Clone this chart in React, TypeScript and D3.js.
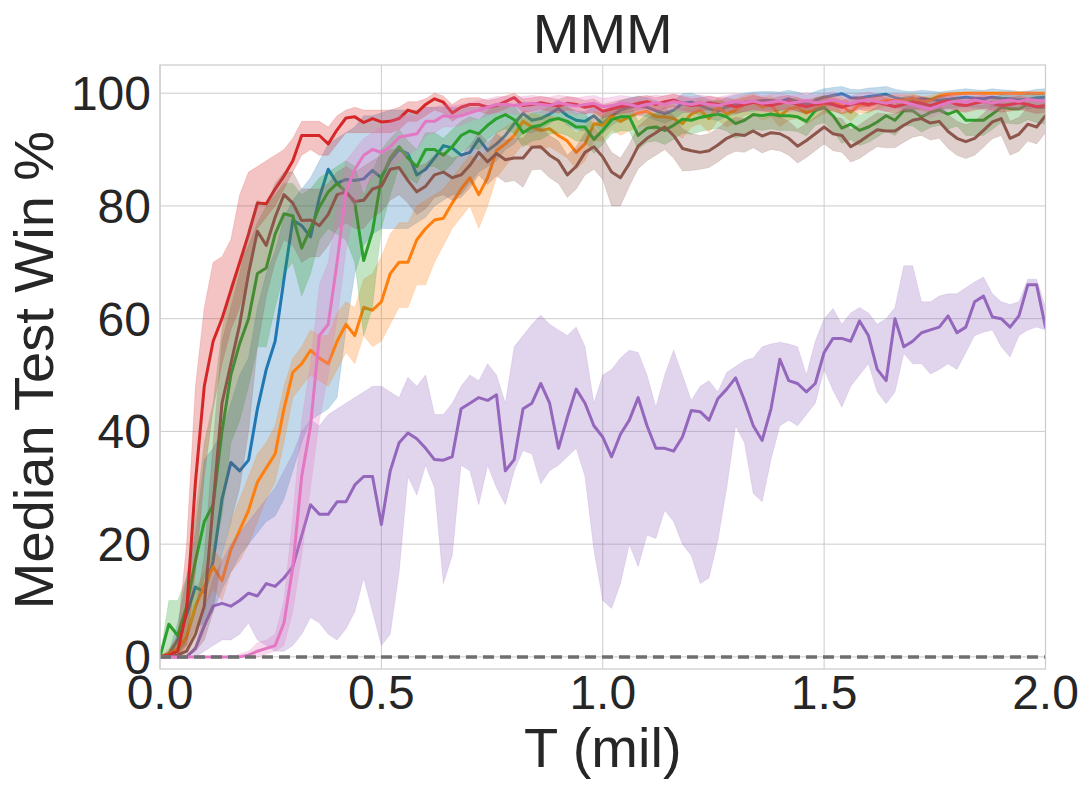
import React from "react";
import * as d3 from "d3";

// ---- data ----
const T: number[] = d3.range(101).map((i) => +(i * 0.02).toFixed(2));

const xTicks = [0, 0.5, 1.0, 1.5, 2.0];
const xTickLabels = ["0.0", "0.5", "1.0", "1.5", "2.0"];
const yTicks = [0, 20, 40, 60, 80, 100];
const yTickLabels = ["0", "20", "40", "60", "80", "100"];

const blueMed = [
  0, 0.5, 3, 7.5, 12.4, 11.5, 17, 28, 34.5, 33,
  34.9, 44, 51, 56, 67, 77.5, 76.5, 74.5, 81.5, 86.5,
  84, 84.7, 84.5, 84.8, 86.3, 85, 88.1, 90, 89.3, 85.5,
  86.5, 88.5, 90.7, 90.3, 89, 89.5, 91.9, 89.8, 91, 92.5,
  94.6, 96.4, 95.2, 95.5, 96.3, 97.3, 96, 95.2, 95, 96,
  94.5, 96, 97, 97.5, 97.8, 97.5, 96.9, 96.4, 97, 98.2,
  98.4, 97.8, 97.2, 96.8, 97.6, 98, 98.4, 98.5, 98.7, 98.7,
  98.5, 99, 98.5, 98, 98.7, 99.3, 99.6, 99.9, 99.2, 99.1,
  99.4, 99.6, 99.8, 99.2, 98.9, 98.8, 99, 98.9, 98.7, 98.9,
  99.1, 99.3, 99.1, 99, 99.3, 99.1, 99, 98.8, 98.9, 99.2,
  99.3,
];
const blueLo = [
  0, 0, 1, 2, 5, 6, 8, 12, 15, 18,
  20, 22, 24, 25, 28, 33, 38, 42, 43, 44,
  46, 58, 68, 73, 75, 76, 76, 76, 76, 77,
  78, 80, 81, 82, 82, 84, 86, 87, 88, 90,
  91, 93, 93, 93.5, 94.6, 95.6, 94.3, 93.5, 93.3, 94.3,
  92.8, 94.3, 95.3, 95.8, 96.1, 95.8, 95.2, 94.7, 95.3, 96.5,
  96.7, 96.1, 95.5, 95.1, 95.9, 96.3, 96.7, 96.8, 97, 97,
  96.8, 97.3, 96.8, 96.3, 97, 97.6, 97.9, 98.2, 97.5, 97.4,
  97.7, 97.9, 98.1, 97.5, 97.2, 97.1, 97.3, 97.2, 97, 97.2,
  97.4, 97.6, 97.4, 97.3, 97.6, 97.4, 97.3, 97.1, 97.2, 97.5,
  97.6,
];
const blueHi = [
  0, 1, 6, 14, 22, 35, 37, 40, 45, 50,
  53, 62, 68, 72, 78, 81, 83, 85, 88, 91,
  92, 93, 94, 96, 96, 96.5, 97, 97, 97, 97,
  97.5, 97.5, 97.5, 97.5, 97.5, 97.5, 97.5, 97.5, 97.5, 98,
  98, 98.5, 98, 98, 98, 98.8, 97.7, 96.9, 96.7, 97.7,
  96.2, 97.7, 98.7, 99.2, 99.5, 99.2, 98.6, 98.1, 98.7, 99.9,
  100, 99.5, 98.9, 98.5, 99.3, 99.7, 100, 100.2, 100.3, 100.3,
  100.2, 100.5, 100.2, 99.7, 100.3, 100.8, 101, 101.2, 100.7, 100.6,
  100.9, 101, 101.2, 100.7, 100.4, 100.3, 100.5, 100.4, 100.2, 100.4,
  100.6, 100.8, 100.6, 100.5, 100.8, 100.6, 100.5, 100.3, 100.4, 100.7,
  100.8,
];

const orangeMed = [
  0, 0.5, 1.5, 3.5, 9, 12.5, 16, 13.5, 19, 22.5,
  26, 31, 33.5, 36, 44, 50.5, 52, 54.4, 53, 52,
  56, 59, 57, 62, 61.5, 63, 68, 70, 70, 74,
  76, 77.5, 77.8, 80.5, 83, 85, 82, 85, 89.8, 91,
  92.5, 95, 94, 93.4, 93.7, 92.5, 91.5, 89.5, 91, 94.6,
  94.3, 96, 95, 95.8, 96.5, 96.8, 95.8, 95.8, 95.5, 94.6,
  96.3, 97, 95.5, 97.5, 96.3, 97, 98, 98.4, 97.5, 98,
  96, 97.2, 97.5, 96.5, 97.2, 98, 98.5, 97.8, 96.6, 98,
  97.8, 98.3, 98.7, 98.7, 98.7, 99.1, 98.4, 98.8, 99.5, 99.8,
  99.9, 100, 100, 100, 100, 100, 100, 100, 100, 100,
  100,
];
const orangeLo = [
  0, 0, 0, 1, 5, 9, 12, 10, 15, 17,
  20, 24, 28, 31, 38, 46, 48, 50, 49, 48,
  51, 54, 52, 57, 55, 56, 59, 62, 62, 66,
  66, 70, 73, 76, 78, 80, 76, 80, 85, 87,
  89, 91, 90.5, 90, 90.5, 89.5, 88.5, 86.5, 88, 91.5,
  91.5, 93.5, 92.5, 93.3, 94, 94.3, 93.3, 93.3, 93, 92,
  94, 94.6, 93, 95.2, 94, 94.7, 96, 96.4, 95.3, 95.8,
  94, 95.2, 95.5, 94.5, 95.5, 96.4, 97, 96.3, 95, 96.5,
  96.5, 97.2, 97.7, 97.8, 97.9, 98.4, 97.8, 98.3, 99.1, 99.5,
  99.6, 99.7, 99.7, 99.7, 99.7, 99.7, 99.7, 99.7, 99.7, 99.7,
  99.7,
];
const orangeHi = [
  0, 1.5, 3, 6, 12, 15, 19, 17, 24, 28,
  32, 36, 38, 41, 48, 53, 55, 58, 57, 57,
  61, 63, 62, 67, 68, 71, 75, 77, 77, 80,
  81, 82, 83, 85, 87, 89, 88, 90, 93, 94,
  95, 97, 96.5, 96, 96, 95.5, 94.5, 93, 94, 96.8,
  96.5, 98, 97.2, 98, 98.5, 98.8, 98, 98, 97.8, 97,
  98.3, 98.8, 97.8, 99.2, 98.4, 99, 99.6, 99.8, 99.2, 99.6,
  98, 99, 99.2, 98.4, 99, 99.5, 99.7, 99.3, 98.2, 99.4,
  99.2, 99.5, 99.7, 99.7, 99.7, 99.9, 99.4, 99.6, 100, 100.1,
  100.2, 100.2, 100.2, 100.2, 100.2, 100.2, 100.2, 100.2, 100.2, 100.2,
  100.2,
];

const greenMed = [
  0, 5.8, 3.8, 8.9, 17, 24, 27, 40, 50, 55.6,
  60, 68, 69, 75, 78.6, 78.2, 72.5, 76, 79.8, 82.5,
  84, 82.5, 80.5, 70.3, 75.5, 85, 88.5, 90.5, 88.5, 87,
  90, 90, 89, 90.5, 92.5, 93.3, 92.8, 94.3, 95.5, 96.2,
  95.3, 93, 94, 94.3, 95.2, 95.5, 95, 94, 94, 91.8,
  93.4, 95.3, 95.8, 95.8, 92.5, 93.8, 94, 93.4, 94.3, 95.4,
  95.2, 95.7, 96, 96.3, 95.8, 94.6, 95.2, 96.2, 96, 96.3,
  96, 96, 95.8, 95, 96.9, 97.5, 96, 93.8, 94.5, 93.4,
  94, 94.9, 96, 95.2, 96.9, 96.9, 95.8, 96.6, 97, 96.3,
  96.9, 95.2, 95.2, 95.2, 96.3, 97.5, 97.3, 97.2, 98, 97.5,
  97.5,
];
const greenLo = [
  0, 0, 0, 3, 8, 14, 18, 25, 38, 42,
  48, 55, 55, 62, 68, 70, 64, 68, 74, 76,
  75, 74, 70, 57, 62, 76, 82, 87, 85, 84,
  87, 87, 86, 87.5, 89.5, 90.5, 90, 91.8, 93, 93.7,
  92.8, 90.5, 91.5, 91.8, 92.7, 93, 92.5, 91.5, 91.5, 89.3,
  90.9, 92.8, 93.3, 93.3, 90, 91.3, 91.5, 90.9, 91.8, 92.9,
  92.7, 93.2, 93.5, 93.8, 93.3, 92, 92.6, 93.6, 93.4, 93.7,
  93.4, 93.4, 93.2, 92.4, 94.3, 94.8, 93.3, 91.1, 91.8, 90.7,
  91.3, 92.2, 93.3, 92.5, 94.2, 94.2, 93.1, 93.9, 94.3, 93.6,
  94.2, 92.5, 92.5, 92.5, 93.6, 94.8, 94.6, 94.5, 95.3, 94.8,
  94.5,
];
const greenHi = [
  0, 10, 10, 14, 25, 38, 45, 58, 66, 70,
  73, 77, 80, 82, 84, 84, 82, 83, 85, 86,
  87, 88, 87, 82, 86, 90, 92, 93.5, 91.5, 90,
  93, 93, 92, 93.5, 95, 95.8, 95.3, 96.8, 98, 98.5,
  97.8, 95.5, 96.5, 96.8, 97.7, 98, 97.5, 96.5, 96.5, 94.3,
  95.9, 97.8, 98.3, 98.3, 95, 96.3, 96.5, 95.9, 96.8, 97.9,
  97.7, 98.2, 98.5, 98.8, 98.3, 97.1, 97.7, 98.7, 98.5, 98.8,
  98.5, 98.5, 98.3, 97.5, 99.2, 99.6, 98.6, 96.5, 97.2, 96.1,
  96.7, 97.6, 98.6, 97.9, 99.4, 99.4, 98.5, 99.2, 99.6, 99,
  99.4, 97.9, 97.9, 97.9, 98.9, 99.8, 99.6, 99.6, 100, 99.8,
  99.8,
];

const redMed = [
  0, 0.3, 1, 8, 31, 48, 56, 60, 65, 70,
  75, 80.5, 80.4, 83, 85.3, 88, 92.5, 92.5, 92.5, 91,
  93.5, 95.6, 95.8, 94.8, 95.5, 94.9, 95, 95.5, 97, 96.5,
  98, 99, 98.4, 96.5, 97.5, 98, 98, 97.5, 97.8, 98.5,
  99.2, 97.8, 98, 98.3, 98, 97.7, 98.2, 98, 97.5, 97.8,
  96.8, 97.2, 97.6, 97.8, 98.2, 98.5, 98, 98.5, 98.8, 98.2,
  97.8, 98, 98.3, 98, 98, 97.6, 98, 98.4, 98.1, 97.8,
  98.2, 98.5, 98, 97.6, 98, 98.3, 98, 97.5, 98, 98.3,
  98, 98.4, 98, 97.6, 98, 98.4, 98.2, 97.8, 98.3, 98.6,
  98, 97.8, 98.2, 98.5, 98.2, 97.8, 98, 98.3, 98, 97.6,
  97.8,
];
const redLo = [
  0, 0, 0, 2, 15, 32, 44, 52, 58, 62,
  68, 76, 78, 80, 83, 86, 89, 90, 89, 89,
  91, 93, 93, 93, 93, 93, 93, 93.5, 95, 95,
  96, 97, 96.5, 95, 96, 96.8, 96.8, 96.3, 96.6, 97.2,
  98, 96.6, 96.8, 97.1, 96.8, 96.5, 97, 96.8, 96.3, 96.6,
  95.6, 96, 96.4, 96.6, 97, 97.3, 96.8, 97.3, 97.6, 97,
  96.6, 96.8, 97.1, 96.8, 96.8, 96.4, 96.8, 97.2, 96.9, 96.6,
  97, 97.3, 96.8, 96.4, 96.8, 97.1, 96.8, 96.3, 96.8, 97.1,
  96.8, 97.2, 96.8, 96.4, 96.8, 97.2, 97, 96.6, 97.1, 97.4,
  96.8, 96.6, 97, 97.3, 97, 96.6, 96.8, 97.1, 96.8, 96.4,
  96.6,
];
const redHi = [
  0, 1, 4, 20, 48, 62, 70, 71, 74, 82,
  86, 87, 88, 89, 90, 92, 95, 95, 95, 94,
  96, 97, 97.5, 97, 97, 97, 97, 97.5, 98.5, 98.5,
  99, 100, 99.5, 98, 99, 99.2, 99.2, 98.7, 99, 99.5,
  100, 99, 99.2, 99.4, 99.2, 98.9, 99.4, 99.2, 98.7, 99,
  98, 98.4, 98.8, 99, 99.4, 99.6, 99.2, 99.6, 99.8, 99.4,
  99, 99.2, 99.5, 99.2, 99.2, 98.8, 99.2, 99.6, 99.3, 99,
  99.4, 99.6, 99.2, 98.8, 99.2, 99.5, 99.2, 98.7, 99.2, 99.5,
  99.2, 99.6, 99.2, 98.8, 99.2, 99.6, 99.4, 99, 99.5, 99.7,
  99.2, 99, 99.4, 99.6, 99.4, 99, 99.2, 99.5, 99.2, 98.8,
  99,
];

const purpleMed = [
  0, 0, 0, 0, 1.5, 5.5, 9, 9.5, 9, 10,
  11.3, 10.8, 13, 12.5, 14, 16, 21.5, 27, 25.3, 25.3,
  27.5, 27.5, 30.5, 32, 32, 23.5, 33, 38, 39.7, 38.7,
  37, 35, 34.9, 35.5, 44, 45, 46, 45.5, 46.5, 33,
  35, 44, 45, 48.5, 45, 37, 42.5, 47.5, 45, 41,
  39, 35.5, 39.5, 42, 46, 41, 37, 37, 36.5, 39,
  43.7, 43.5, 42, 45.8, 47.5, 49.5, 45.5, 41, 38.4, 44,
  52.8, 49, 48.5, 47, 48.5, 54, 56.5, 56.5, 56, 59.6,
  57, 51, 49, 60, 55, 56, 57.5, 58, 58.5, 60.5,
  57.5, 58.5, 63, 64, 60.3, 60, 58.5, 60.5, 66, 66,
  58.5,
];
const purpleLo = [
  0, 0, 0, 0, 0, 1, 2, 3, 3, 4,
  6, 3, 2, 1, 1, 2, 4, 7, 6, 4,
  3, 5, 8, 14, 8, 2, 4, 15, 32, 28.7,
  34, 30, 13, 18, 34, 33, 27, 34, 30, 27,
  33, 36.6, 36, 30.7, 33, 34, 35.5, 37, 32, 19,
  10, 8.6, 13, 20, 16, 21.6, 21, 26, 24, 20,
  18, 13, 14, 20.7, 30, 41, 38, 29, 27.5, 35,
  41, 42, 41, 43, 45, 51, 47.3, 44.3, 48, 50,
  52, 47, 44.9, 47, 53.8, 52, 52, 50.2, 51, 52,
  51, 54, 57, 57.6, 58, 55, 53.2, 57, 58, 58.5,
  58,
];
const purpleHi = [
  0, 0, 0, 0, 2, 8, 14, 17, 20, 22,
  24, 26, 28, 30, 33, 36, 40, 42, 41, 43,
  44, 45, 46, 47, 48, 48, 47, 46, 49.6, 48,
  50, 43, 43, 45, 48, 50, 49, 52, 50, 45,
  55, 57, 59, 60.6, 59, 58, 57, 58.5, 55, 45,
  50, 51, 53, 54.4, 54, 50, 44.3, 50, 54.4, 50,
  45.5, 48, 49, 47, 50.5, 51.5, 52.6, 53, 55, 55.5,
  55.8, 55.5, 55, 50, 56, 60, 61.8, 59, 61, 62,
  61, 59, 60, 62, 69.4, 69.4, 63, 63, 64, 64.4,
  64.4, 65.5, 66.5, 67.4, 64.4, 63, 62.5, 63, 67, 67,
  62,
];

const brownMed = [
  0, 0, 0.3, 1, 4, 9, 27, 45, 52, 59,
  68, 75.5, 73, 78, 82, 80.5, 77.4, 77.5, 76.5, 78.5,
  82, 82.5, 80.8, 81, 83, 83.5, 86.5, 86.8, 84.5, 82.5,
  83.5, 85.5, 86, 85, 85.5, 87.2, 89.5, 87.8, 89.3, 88.2,
  88.5, 88.5, 90.4, 90.5, 89, 88, 85.5, 87, 89.5, 90.5,
  88.7, 86, 85, 87.5, 90.6, 92, 93, 94, 92.5, 90.2,
  89.8, 89.5, 89.8, 90.8, 92, 92.7, 92.5, 93.3, 92.4, 93,
  92.8, 92, 90.6, 91.6, 92.8, 94, 92.8, 92.5, 90.5, 91.4,
  92.5, 93.5, 93.3, 93.3, 94.3, 95.2, 95.5, 94.7, 95, 93.2,
  92, 91.4, 92, 93.4, 94.9, 95.5, 92, 92.7, 94.5, 94,
  96,
];
const brownLo = [
  0, 0, 0, 0, 1, 3, 8, 18, 24, 30,
  40, 55, 64, 70, 74, 73, 70, 71, 71, 73,
  76, 77, 76, 76, 78, 79, 81, 82, 80.5, 78.5,
  79.5, 81.5, 82, 81, 81.5, 83.2, 85.5, 83.8, 85.3, 84.2,
  84.5, 83.3, 86.4, 86.5, 85, 84, 81.5, 83, 85.5, 86.5,
  84.7, 80, 80, 83.5, 86.6, 88, 89, 90, 88.5, 86.2,
  86.3, 86.5, 86.8, 87.8, 89, 89.7, 89.5, 90.3, 89.4, 90,
  89.8, 89, 87.6, 88.6, 89.8, 91, 89.8, 89.5, 87.8, 88.4,
  89.5, 90.5, 90.3, 90.3, 91.3, 92.2, 92.5, 91.7, 92, 90.2,
  89, 88.4, 89, 90.4, 91.9, 92.5, 89, 89.7, 91.5, 91,
  93,
];
const brownHi = [
  0, 0, 1, 3, 8, 18, 38, 56, 62, 68,
  76, 81, 80, 84, 86, 86, 83, 83, 83, 84,
  86, 87, 86, 87, 88, 89, 90, 90, 88.5, 87,
  87.5, 89, 89.5, 88.5, 89, 90.7, 93, 91.3, 92.8, 91.7,
  92, 92, 93.9, 94, 92.5, 91.5, 89, 90.5, 93, 94,
  92.2, 89.5, 88.5, 91, 94.1, 95.5, 96.5, 97.5, 96, 93.7,
  92.8, 92.5, 92.8, 93.8, 95, 95.7, 95.5, 96.3, 95.4, 96,
  95.8, 95, 93.6, 94.6, 95.8, 97, 95.8, 95.5, 93.5, 94.4,
  95.5, 96.5, 96.3, 96.3, 97.3, 98.2, 98.5, 97.7, 98, 96.2,
  95, 94.4, 95, 96.4, 97.9, 98.5, 95, 95.7, 97.5, 97,
  98.5,
];

const pinkMed = [
  0, 0, 0, 0, 0, 0, 0, 0, 0, 0,
  0.3, 1, 1.5, 2, 6, 16, 32, 41, 57, 59,
  70, 82.5, 86.5, 89, 90, 89.5, 90.5, 92.2, 92.5, 92.8,
  95, 95, 96, 95.8, 96, 96.5, 97, 97.5, 98, 98,
  97.8, 98, 98.2, 98, 97.8, 98.3, 98, 97.7, 98, 98.2,
  97.6, 97.8, 98.2, 98, 97.6, 98, 98.3, 98, 98.5, 98.2,
  98, 98.3, 98, 97.8, 98.2, 98.5, 98.3, 98.6, 98.2, 98.4,
  98.6, 98.2, 98.4, 98.7, 98.3, 98.5, 98.8, 98.4, 98.1, 98.6,
  98.8, 98.5, 98.2, 98.6, 98.4, 98, 97.5, 97.2, 97.8, 98.3,
  98.6, 98.4, 98.8, 98.5, 98.2, 98.6, 98.8, 98.5, 98.9, 98.7,
  98.6,
];
const pinkLo = [
  0, 0, 0, 0, 0, 0, 0, 0, 0, 0,
  0, 0, 0.5, 1, 2, 8, 18, 30, 42, 50,
  60, 72, 80, 83, 85, 86, 87, 88, 89, 90,
  92.5, 93, 94, 94, 94.3, 95, 95.5, 96, 96.5, 96.5,
  96.3, 96.5, 96.7, 96.5, 96.3, 96.8, 96.5, 96.2, 96.5, 96.7,
  96.1, 96.3, 96.7, 96.5, 96.1, 96.5, 96.8, 96.5, 97, 96.7,
  96.5, 96.8, 96.5, 96.3, 96.7, 97, 96.8, 97.1, 96.7, 96.9,
  97.1, 96.7, 96.9, 97.2, 96.8, 97, 97.3, 96.9, 96.6, 97.1,
  97.3, 97, 96.7, 97.1, 96.9, 96.5, 96, 95.7, 96.3, 96.8,
  97.1, 96.9, 97.3, 97, 96.7, 97.1, 97.3, 97, 97.4, 97.2,
  97.1,
];
const pinkHi = [
  0, 0, 0, 0, 0, 0, 0, 0, 0, 0.5,
  1, 2.5, 3, 4, 10, 25, 42, 52, 66, 70,
  80, 88, 90, 92, 93, 94, 95, 96, 96, 96,
  97.5, 97.5, 98, 97.8, 98, 98.3, 98.7, 99, 99.4, 99.4,
  99.3, 99.4, 99.6, 99.4, 99.3, 99.7, 99.4, 99.2, 99.4, 99.6,
  99.1, 99.3, 99.6, 99.4, 99.1, 99.4, 99.7, 99.4, 99.9, 99.6,
  99.4, 99.7, 99.4, 99.3, 99.6, 99.9, 99.7, 100, 99.6, 99.8,
  100, 99.6, 99.8, 100.1, 99.7, 99.9, 100.2, 99.8, 99.5, 100,
  100.2, 99.9, 99.6, 100, 99.8, 99.5, 99, 98.8, 99.4, 99.8,
  100, 99.8, 100.2, 99.9, 99.6, 100, 100.2, 99.9, 100.3, 100.1,
  100,
];

const baselineX = [0, 2.0];
const baselineY = [0, 0];

const seriesColors = ["#1f77b4", "#ff7f0e", "#2ca02c", "#d62728", "#9467bd", "#8c564b", "#e377c2"];
const series = [
  { med: blueMed, lo: blueLo, hi: blueHi },
  { med: orangeMed, lo: orangeLo, hi: orangeHi },
  { med: greenMed, lo: greenLo, hi: greenHi },
  { med: redMed, lo: redLo, hi: redHi },
  { med: purpleMed, lo: purpleLo, hi: purpleHi },
  { med: brownMed, lo: brownLo, hi: brownHi },
  { med: pinkMed, lo: pinkLo, hi: pinkHi },
];

// ---- layout ----
const W = 1089;
const H = 790;
const L = 160;
const R = 1045.5;
const TOP = 65;
const BOT = 669;
const FONT = "'Liberation Sans', Arial, Helvetica, sans-serif";
const TXT = "#262626";

export default function App() {
  const x = d3.scaleLinear().domain([0, 2]).range([L, R]);
  const y = d3.scaleLinear().domain([-2.15, 105]).range([BOT, TOP]);

  const area = (lo: number[], hi: number[]) =>
    d3
      .area<number>()
      .x((d) => x(d))
      .y0((_d, i) => y(lo[i]))
      .y1((_d, i) => y(hi[i]))(T) as string;
  const line = (v: number[]) =>
    d3
      .line<number>()
      .x((d) => x(d))
      .y((_d, i) => y(v[i]))(T) as string;

  const baseline = d3
    .line<number>()
    .x((d) => x(d))
    .y((_d, i) => y(baselineY[i]))(baselineX) as string;

  return (
    <svg
      width={W}
      height={H}
      viewBox={`0 0 ${W} ${H}`}
      style={{ position: "absolute", left: 0, top: 0, background: "#fff" }}
    >
      <rect x={0} y={0} width={W} height={H} fill="#fff" />
      <defs>
        <clipPath id="plotArea">
          <rect x={L} y={TOP} width={R - L} height={BOT - TOP} />
        </clipPath>
      </defs>

      {/* grid */}
      <g stroke="#cccccc" strokeWidth={1}>
        {xTicks.map((t) => (
          <line key={"gx" + t} x1={x(t)} x2={x(t)} y1={TOP} y2={BOT} />
        ))}
        {yTicks.map((t) => (
          <line key={"gy" + t} x1={L} x2={R} y1={y(t)} y2={y(t)} />
        ))}
      </g>

      <g clipPath="url(#plotArea)">
        {series.map((s, k) => (
          <g key={"s" + k}>
            <path d={area(s.lo, s.hi)} fill={seriesColors[k]} fillOpacity={0.28} stroke={seriesColors[k]} strokeOpacity={0.15} strokeWidth={1} />
            <path
              d={line(s.med)}
              fill="none"
              stroke={seriesColors[k]}
              strokeWidth={3}
              strokeLinejoin="round"
              strokeLinecap="round"
            />
          </g>
        ))}
        <path d={baseline} fill="none" stroke="#6f6f6f" strokeWidth={3.5} strokeDasharray="11,6" />
      </g>

      {/* frame */}
      <rect x={L} y={TOP} width={R - L} height={BOT - TOP} fill="none" stroke="#cccccc" strokeWidth={1.25} />

      {/* tick labels */}
      <g fontFamily={FONT} fontSize={48} fill={TXT}>
        {xTicks.map((t, i) => (
          <text key={"xl" + t} x={x(t)} y={709} textAnchor="middle">
            {xTickLabels[i]}
          </text>
        ))}
        {yTicks.map((t, i) => (
          <text key={"yl" + t} x={151} y={y(t) + 17} textAnchor="end">
            {yTickLabels[i]}
          </text>
        ))}
      </g>

      {/* title & axis labels */}
      <text x={(L + R) / 2} y={53} textAnchor="middle" fontFamily={FONT} fontSize={56} fill={TXT}>
        MMM
      </text>
      <text x={(L + R) / 2} y={767} textAnchor="middle" fontFamily={FONT} fontSize={56} fill={TXT}>
        T (mil)
      </text>
      <text
        transform={`translate(53,370) rotate(-90)`}
        textAnchor="middle"
        fontFamily={FONT}
        fontSize={56}
        fill={TXT}
      >
        Median Test Win %
      </text>
    </svg>
  );
}
